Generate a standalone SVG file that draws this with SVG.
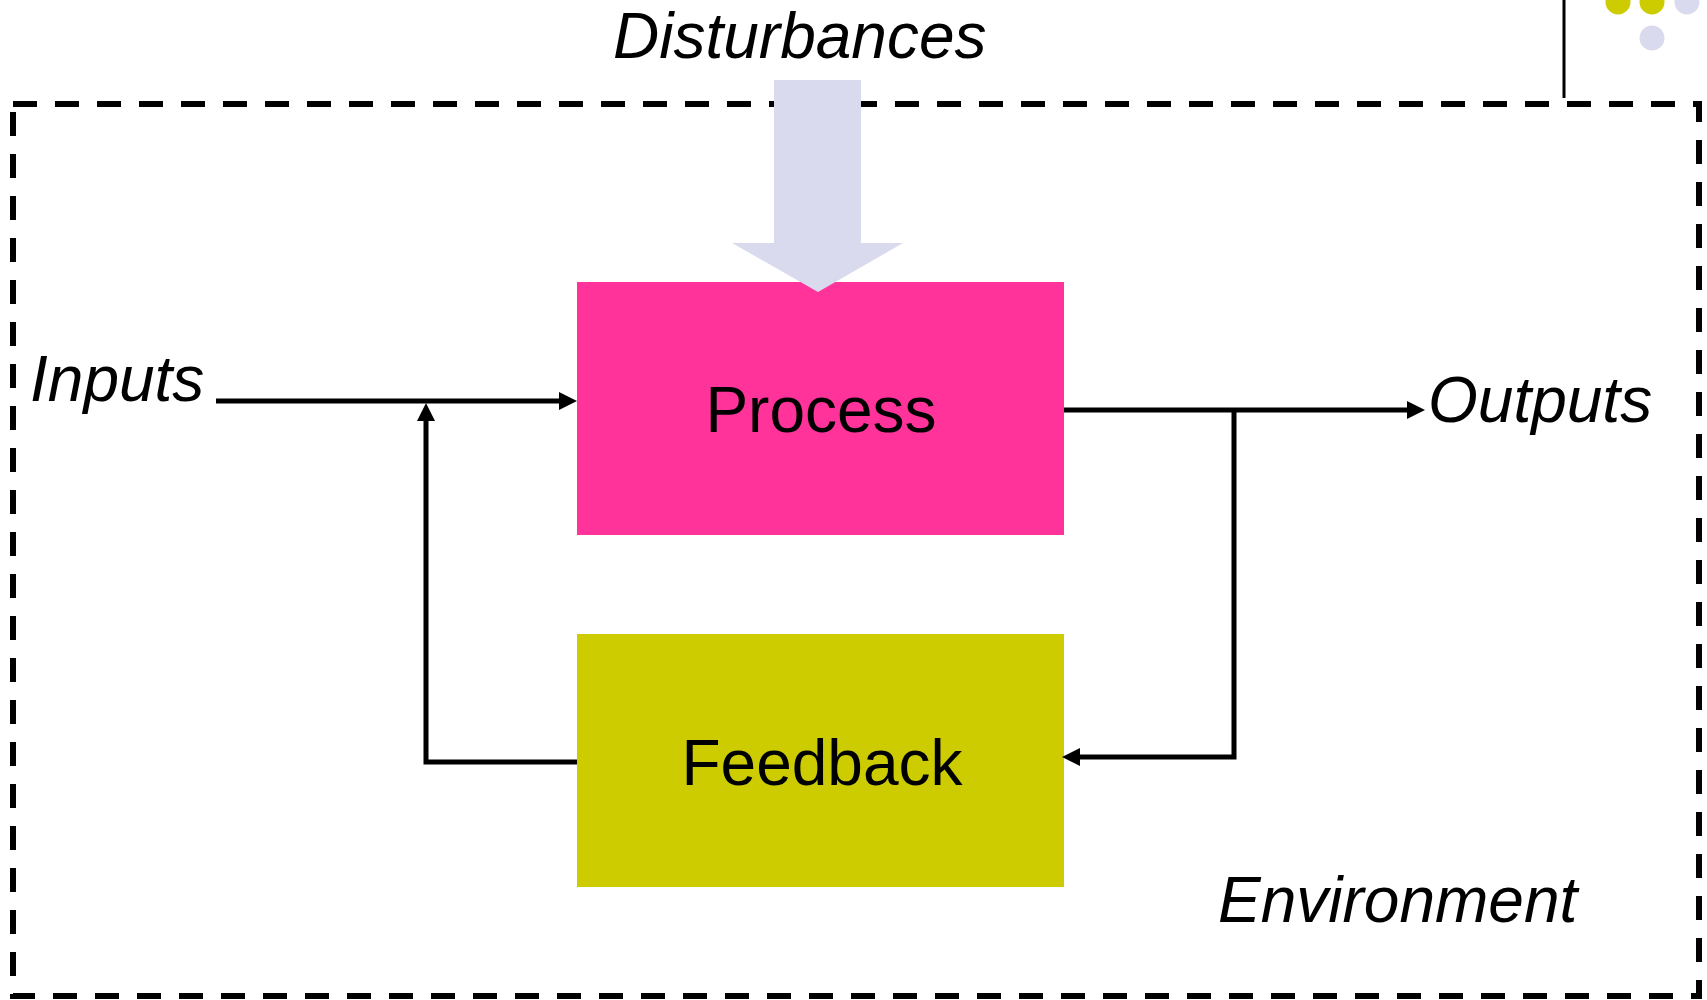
<svg xmlns="http://www.w3.org/2000/svg" width="1707" height="1000" viewBox="0 0 1707 1000">
  <defs>
    <style>
      .lbl { font-family: "Liberation Sans", Arial, sans-serif; font-size: 64px; fill: #000; }
      .it { font-style: italic; }
      .wire { fill: none; stroke: #000; stroke-width: 5; }
    </style>
    <marker id="ah" markerUnits="userSpaceOnUse" markerWidth="18" markerHeight="18" refX="0" refY="9" orient="auto">
      <path d="M0,0 L18,9 L0,18 z" fill="#000"/>
    </marker>
  </defs>
  <rect width="1707" height="1000" fill="#fff"/>

  <g id="decoration">
    <line x1="1564" y1="0" x2="1564" y2="98" stroke="#000" stroke-width="3"/>
    <circle cx="1618" cy="2" r="12.5" fill="#CCCC00"/>
    <circle cx="1652" cy="2" r="12.5" fill="#CCCC00"/>
    <circle cx="1687" cy="2" r="12.5" fill="#D9DAED"/>
    <circle cx="1652" cy="38" r="12.5" fill="#D9DAED"/>
  </g>

  <g id="environment">
    <rect x="13" y="104" width="1686" height="892" fill="none" stroke="#000" stroke-width="6" stroke-dasharray="24 18"/>
    <text class="lbl it" x="1218" y="922">Environment</text>
  </g>

  <g id="process">
    <rect x="577" y="282" width="487" height="253" fill="#FF3399"/>
    <text class="lbl" x="821" y="432" text-anchor="middle">Process</text>
  </g>

  <g id="disturbances">
    <text class="lbl it" x="613" y="58">Disturbances</text>
    <polygon points="774,80 861,80 861,243 903,243 818,292 732,243 774,243" fill="#D9DAED"/>
  </g>

  <g id="feedback">
    <rect x="577" y="634" width="487" height="253" fill="#CCCC00"/>
    <text class="lbl" x="822" y="785" text-anchor="middle">Feedback</text>
  </g>

  <g id="inputs">
    <text class="lbl it" x="30" y="401">Inputs</text>
  </g>

  <g id="outputs">
    <text class="lbl it" x="1428" y="422">Outputs</text>
  </g>

  <g id="connectors">
    <line class="wire" x1="216" y1="401" x2="559" y2="401" marker-end="url(#ah)"/>
    <polyline class="wire" points="577,762 426,762 426,421" marker-end="url(#ah)"/>
    <line class="wire" x1="1064" y1="410" x2="1407" y2="410" marker-end="url(#ah)"/>
    <polyline class="wire" points="1234,410 1234,757 1080,757" marker-end="url(#ah)"/>
  </g>
</svg>
